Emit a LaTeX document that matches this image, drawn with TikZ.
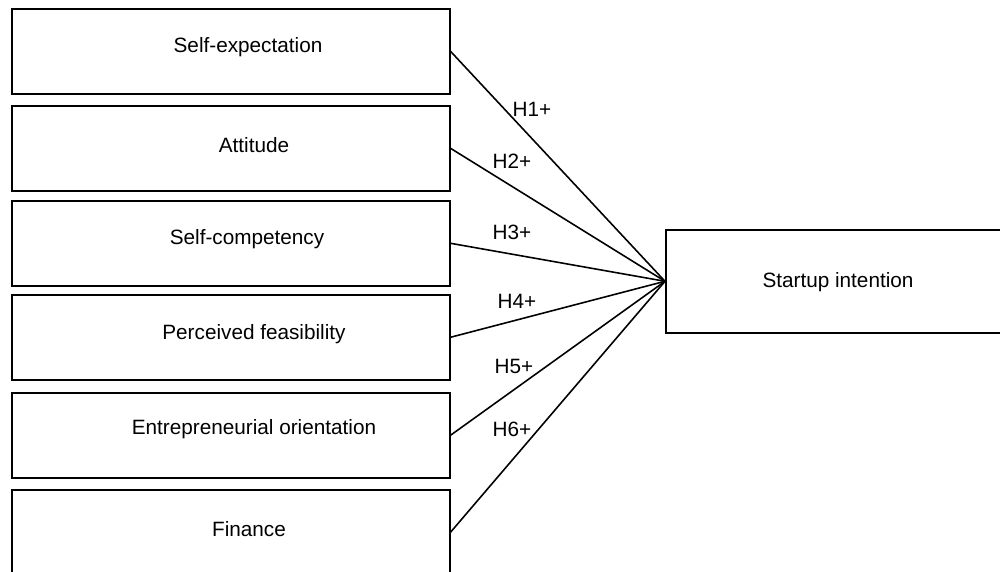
\documentclass[tikz,border=0pt]{standalone}
\usepackage{fontspec}
\setmainfont{Liberation Sans}
\begin{document}
\begin{tikzpicture}[x=0.02cm,y=-0.02cm,
  font=\fontsize{11.8}{13}\selectfont,
  box/.style={draw, line width=0.9pt, minimum width=8.76cm, minimum height=1.7cm, inner sep=0pt, anchor=north west},
  tbox/.style={draw, line width=0.9pt, minimum width=6.8cm, minimum height=2.06cm, inner sep=0pt, anchor=north west},
  txt/.style={inner sep=0pt},
  hyp/.style={inner sep=0pt},
  link/.style={line width=0.9pt}]
\useasboundingbox (0,0) rectangle (1000,571);
\clip (0,0) rectangle (1000,571);
\node[box] (b1) at (11,8) {};
\node[box] (b2) at (11,105) {};
\node[box] (b3) at (11,200) {};
\node[box] (b4) at (11,294) {};
\node[box] (b5) at (11,392) {};
\node[box] (b6) at (11,489) {};
\node[tbox] (si) at (665,229) {};
\node[txt] (t1) at (248,47) {Self-expectation};
\node[txt] (t2) at (254,145) {Attitude};
\node[txt] (t3) at (247,239) {Self-competency};
\node[txt] (t4) at (254,334) {Perceived feasibility};
\node[txt] (t5) at (254,429) {Entrepreneurial orientation};
\node[txt] (t6) at (249,529) {Finance};
\node[txt] (t7) at (838,282) {Startup intention};
\foreach \i in {1,...,6} { \draw[link] (b\i.east) -- (si.west); }
\node[hyp] (h1) at (532,109) {H1+};
\node[hyp] (h2) at (512,161) {H2+};
\node[hyp] (h3) at (512,232) {H3+};
\node[hyp] (h4) at (517,301) {H4+};
\node[hyp] (h5) at (514,366) {H5+};
\node[hyp] (h6) at (512,429) {H6+};
\end{tikzpicture}
\end{document}
